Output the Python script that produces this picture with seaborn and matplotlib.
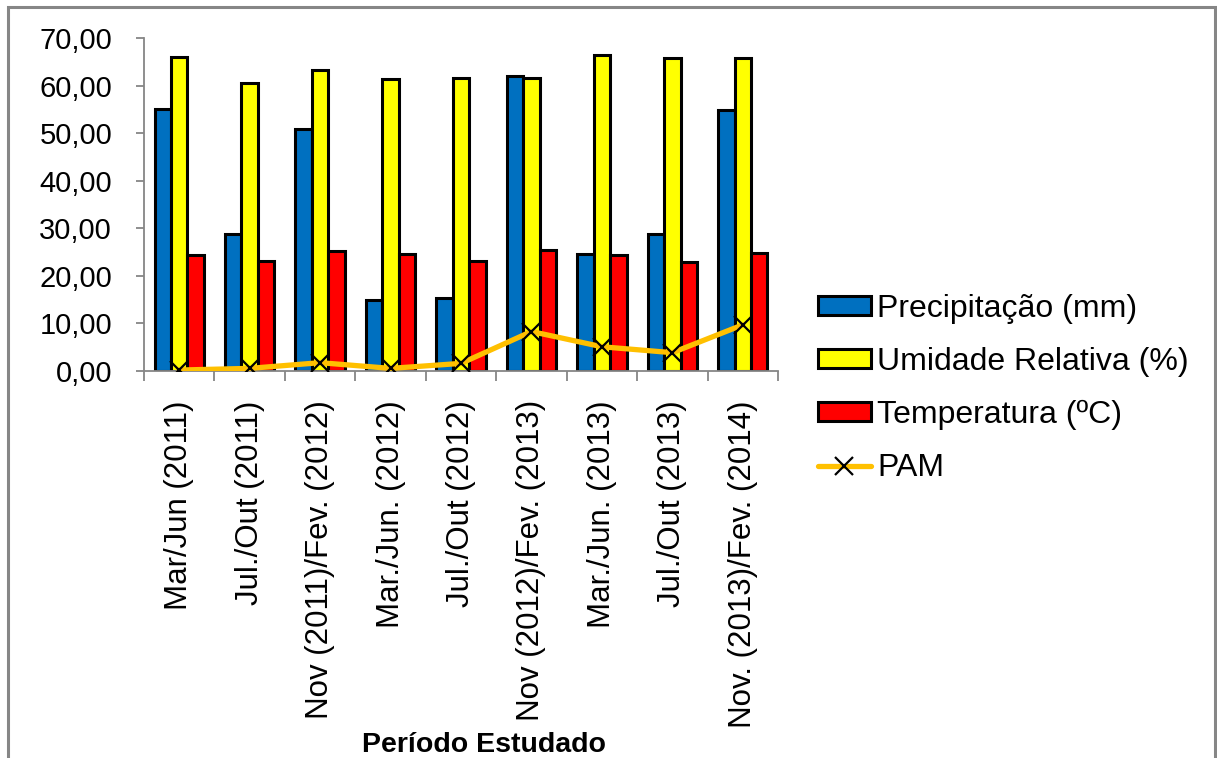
import numpy as np
import pandas as pd
import matplotlib
matplotlib.use("Agg")
import matplotlib.pyplot as plt
import seaborn as sns
from matplotlib.ticker import FuncFormatter, FixedLocator
from matplotlib.patches import Rectangle

# Periods studied and climate series per period
periodos = [
    "Mar/Jun (2011)",
    "Jul./Out (2011)",
    "Nov (2011)/Fev. (2012)",
    "Mar./Jun. (2012)",
    "Jul./Out (2012)",
    "Nov (2012)/Fev. (2013)",
    "Mar./Jun. (2013)",
    "Jul./Out (2013)",
    "Nov. (2013)/Fev. (2014)",
]
precipitacao = [55.0, 28.9, 50.9, 15.0, 15.4, 62.0, 24.5, 28.7, 54.9]
umidade = [66.1, 60.5, 63.3, 61.4, 61.5, 61.5, 66.4, 65.8, 65.7]
temperatura = [24.3, 23.1, 25.3, 24.6, 23.1, 25.4, 24.3, 23.0, 24.7]
pam = [0.2, 0.55, 1.75, 0.55, 1.6, 8.3, 5.1, 3.85, 9.7]

series = ["Precipitação (mm)", "Umidade Relativa (%)", "Temperatura (ºC)"]
cores = ["#0070C0", "#FFFF00", "#FF0000"]

df = pd.DataFrame({
    "periodo": periodos * 3,
    "serie": np.repeat(series, len(periodos)),
    "valor": precipitacao + umidade + temperatura,
})

sns.set_theme(style="white")
plt.rcParams["font.family"] = ["Liberation Sans", "DejaVu Sans"]
plt.rcParams["text.color"] = "black"
plt.rcParams["axes.labelcolor"] = "black"

fig = plt.figure(figsize=(12.17, 7.58), dpi=100)
ax = fig.add_axes([144 / 1217, 1 - 371 / 758, 634 / 1217, 333 / 758])

sns.barplot(
    data=df, x="periodo", y="valor", hue="serie", order=periodos,
    hue_order=series, palette=cores, saturation=1, width=0.7,
    edgecolor="black", linewidth=2.2, errorbar=None, ax=ax,
)

# the temperature bar of Nov (2012)/Fev. (2013) carries a dark blue outline
temp_bars = [p for p in ax.patches if isinstance(p, Rectangle)
             and p.get_facecolor()[:3] == matplotlib.colors.to_rgb("#FF0000")]
temp_bars = sorted(temp_bars, key=lambda p: p.get_x())
if len(temp_bars) == len(periodos):
    temp_bars[5].set_edgecolor("#2E5A88")

sns.lineplot(
    x=np.arange(len(periodos)), y=pam, color="#FFC000", linewidth=3.8,
    marker="x", markersize=13, markeredgecolor="black", markeredgewidth=1.6,
    label="PAM", ax=ax, zorder=5,
)

ax.set_xlim(-0.5, len(periodos) - 0.5)
ax.set_ylim(0, 70)
ax.set_yticks(np.arange(0, 71, 10))
ax.yaxis.set_major_formatter(FuncFormatter(lambda v, _: f"{v:.2f}".replace(".", ",")))

for side in ["top", "right"]:
    ax.spines[side].set_visible(False)
for side in ["left", "bottom"]:
    ax.spines[side].set_color("#868686")
    ax.spines[side].set_linewidth(1.3)

ax.tick_params(axis="y", which="major", direction="out", length=6, width=1.3,
               color="#868686", labelsize=21, pad=17, left=True, labelcolor="black")
ax.set_xticks(np.arange(len(periodos)))
ax.set_xticklabels(periodos, rotation=90, fontsize=22.5)
ax.xaxis.set_minor_locator(FixedLocator(np.arange(-0.5, len(periodos), 1.0)))
ax.tick_params(axis="x", which="major", length=0, pad=21, labelcolor="black")
ax.tick_params(axis="x", which="minor", direction="out", length=7, width=1.3,
               color="#868686", bottom=True)

ax.set_ylabel("")
ax.set_xlabel("Período Estudado", fontsize=20.5, fontweight="bold", va="center",
              color="black")
ax.xaxis.set_label_coords((484 - 144) / 634, -(745 - 371) / 333)

handles, labels = ax.get_legend_handles_labels()
ax.legend(
    handles, labels, loc="upper left", bbox_to_anchor=(818 / 1217, 1 - 294 / 758),
    bbox_transform=fig.transFigure, frameon=False, fontsize=23,
    handlelength=1.65, handleheight=0.55, handletextpad=0.2, labelspacing=0.72,
    borderaxespad=0, borderpad=0,
)

# chart area border
fig.add_artist(Rectangle((8 / 1217, -0.05), 1207 / 1217, 1 - 7 / 758 + 0.05,
                         transform=fig.transFigure, fill=False,
                         edgecolor="#868686", linewidth=2.2))

fig.savefig("out.png", dpi=100)
